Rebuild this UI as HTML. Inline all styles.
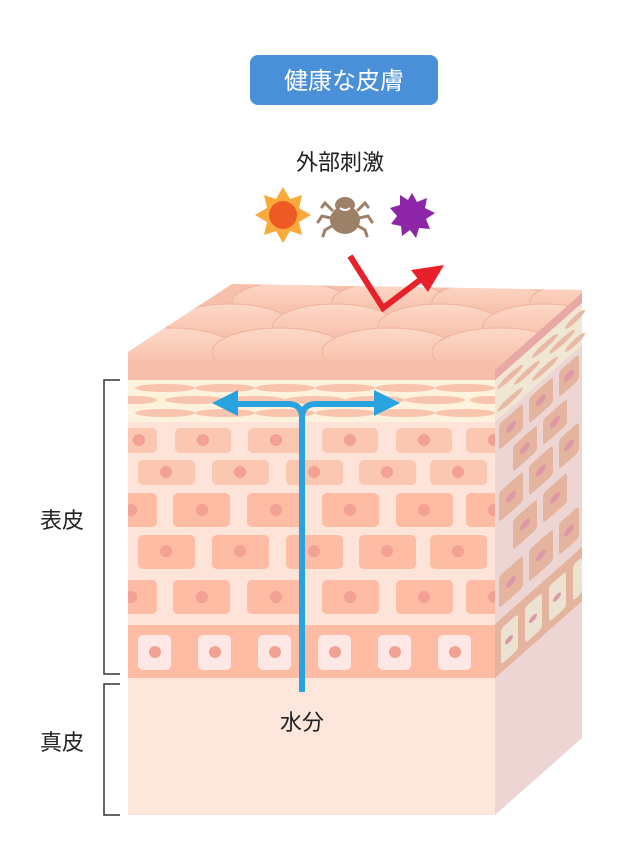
<!DOCTYPE html>
<html><head><meta charset="utf-8"><style>
html,body{margin:0;padding:0;background:#fff;}
body{width:640px;height:853px;overflow:hidden;font-family:"Liberation Sans","Noto Sans CJK JP",sans-serif;}
</style></head><body>
<svg width="640" height="853" viewBox="0 0 640 853" xmlns="http://www.w3.org/2000/svg">
<defs>
<linearGradient id="hump" x1="0" y1="0" x2="0" y2="1">
<stop offset="0" stop-color="#fdd9c7"/><stop offset="1" stop-color="#f5b8a1"/>
</linearGradient>
<clipPath id="topclip"><polygon points="128,370 128,352 232,284 582,290 582,293 495,370"/></clipPath>
<clipPath id="frontclip"><rect x="128" y="360" width="367" height="460"/></clipPath>
</defs>
<!-- title -->
<rect x="250" y="55" width="188" height="50" rx="8" fill="#4a90d9"/>
<text x="344" y="89" font-size="24" fill="#fff" text-anchor="middle" font-family="Liberation Sans,Noto Sans CJK JP,sans-serif">健康な皮膚</text>
<text x="340" y="170" font-size="22" fill="#222" text-anchor="middle" font-family="Liberation Sans,Noto Sans CJK JP,sans-serif">外部刺激</text>
<!-- sun -->
<polygon fill="#f9aa3a" points="283,187 290,199 302,195 299,208 311,215 299,222 302,235 290,231 283,243 276,231 264,235 267,222 255,215 267,208 264,195 276,199"/>
<circle cx="283" cy="215" r="14" fill="#ee5a24"/>
<!-- tick -->
<g fill="#9c8068" stroke="#9c8068">
<ellipse cx="345" cy="220" rx="15" ry="14" stroke="none"/>
<ellipse cx="345" cy="205" rx="10" ry="8" stroke="none"/>
<g stroke-width="3" fill="none" stroke-linecap="round">
<path d="M332,210 L325,203 L322,207"/><path d="M358,210 L365,203 L368,207"/>
<path d="M331,218 L322,216 L318,222"/><path d="M359,218 L368,216 L372,222"/>
<path d="M332,226 L325,230 L323,236"/><path d="M358,226 L365,230 L367,236"/>
</g>
</g>
<path d="M340,208 Q345,212 350,208" stroke="#fff" stroke-width="2" fill="none"/>
<!-- purple -->
<polygon fill="#8c25a6" points="412,193 417,202 427,198 425,208 435,213 426,219 430,229 419,228 416,238 410,230 402,236 401,226 391,224 397,216 390,208 400,205 400,195 408,200"/>
<!-- side face -->
<g transform="translate(495,0) skewY(-41.5)">
<rect x="0" y="370" width="87" height="445" fill="#ecd5d3"/>
<rect x="0" y="370" width="87" height="10" fill="#e8a9a6"/>
<rect x="0" y="380" width="87" height="42" fill="#efe7d3"/>
<g fill="#eab9a6">
<ellipse cx="15" cy="390" rx="13" ry="3.5"/><ellipse cx="50" cy="390" rx="13" ry="3.5"/><ellipse cx="80" cy="390" rx="10" ry="3.5"/>
<ellipse cx="32" cy="401" rx="13" ry="3.5"/><ellipse cx="67" cy="401" rx="13" ry="3.5"/>
<ellipse cx="15" cy="413" rx="13" ry="3.5"/><ellipse cx="50" cy="413" rx="13" ry="3.5"/><ellipse cx="80" cy="413" rx="10" ry="3.5"/>
</g>
<g fill="#e5b49e">
<rect x="4" y="428" width="24" height="26" rx="3"/><rect x="34" y="428" width="24" height="26" rx="3"/><rect x="64" y="428" width="20" height="26" rx="3"/>
<rect x="18" y="462" width="24" height="26" rx="3"/><rect x="48" y="462" width="24" height="26" rx="3"/>
<rect x="4" y="496" width="24" height="30" rx="3"/><rect x="34" y="496" width="24" height="30" rx="3"/><rect x="64" y="496" width="20" height="30" rx="3"/>
<rect x="18" y="536" width="24" height="30" rx="3"/><rect x="48" y="536" width="24" height="30" rx="3"/>
<rect x="4" y="580" width="24" height="32" rx="3"/><rect x="34" y="580" width="24" height="32" rx="3"/><rect x="64" y="580" width="20" height="32" rx="3"/>
<rect x="0" y="624" width="87" height="54"/>
</g>
<g fill="#ebe3cf"><rect x="6" y="634" width="17" height="36" rx="3"/><rect x="30" y="634" width="17" height="36" rx="3"/><rect x="54" y="634" width="17" height="36" rx="3"/><rect x="78" y="634" width="9" height="36" rx="3"/></g>
<g fill="#dd98a6">
<ellipse cx="16" cy="441" rx="5" ry="4"/><ellipse cx="46" cy="441" rx="5" ry="4"/><ellipse cx="74" cy="441" rx="5" ry="4"/>
<ellipse cx="30" cy="475" rx="5" ry="4"/><ellipse cx="60" cy="475" rx="5" ry="4"/>
<ellipse cx="16" cy="511" rx="5" ry="4"/><ellipse cx="46" cy="511" rx="5" ry="4"/><ellipse cx="74" cy="511" rx="5" ry="4"/>
<ellipse cx="30" cy="551" rx="5" ry="4"/><ellipse cx="60" cy="551" rx="5" ry="4"/>
<ellipse cx="16" cy="596" rx="5" ry="4"/><ellipse cx="46" cy="596" rx="5" ry="4"/><ellipse cx="74" cy="596" rx="5" ry="4"/>
<ellipse cx="14" cy="652" rx="4" ry="3"/><ellipse cx="38" cy="652" rx="4" ry="3"/><ellipse cx="62" cy="652" rx="4" ry="3"/>
</g>
</g>
<!-- top face -->
<polygon points="128,370 128,352 232,284 582,290 582,293 495,370" fill="#f6c0aa"/>
<g clip-path="url(#topclip)" fill="url(#hump)" stroke="#f0b29c" stroke-width="1">
<ellipse cx="290" cy="302" rx="58" ry="20"/><ellipse cx="390" cy="302" rx="58" ry="20"/><ellipse cx="490" cy="302" rx="58" ry="20"/><ellipse cx="585" cy="302" rx="55" ry="20"/>
<ellipse cx="230" cy="326" rx="62" ry="22"/><ellipse cx="335" cy="326" rx="62" ry="22"/><ellipse cx="440" cy="326" rx="62" ry="22"/><ellipse cx="545" cy="326" rx="62" ry="22"/>
<ellipse cx="170" cy="352" rx="68" ry="24"/><ellipse cx="280" cy="352" rx="68" ry="24"/><ellipse cx="390" cy="352" rx="68" ry="24"/><ellipse cx="500" cy="352" rx="68" ry="24"/>
</g>
<polygon points="495,370 582,293 582,300 495,378" fill="#e8a9a6"/>
<!-- front face -->
<g clip-path="url(#frontclip)">
<rect x="128" y="360" width="367" height="20" fill="#f6bfa9"/>
<rect x="128" y="380" width="367" height="42" fill="#fdf2dc"/>
<g fill="#f8c4ad">
<ellipse cx="165" cy="388" rx="30" ry="4"/><ellipse cx="225" cy="388" rx="30" ry="4"/><ellipse cx="285" cy="388" rx="30" ry="4"/><ellipse cx="345" cy="388" rx="30" ry="4"/><ellipse cx="405" cy="388" rx="30" ry="4"/><ellipse cx="465" cy="388" rx="30" ry="4"/>
<ellipse cx="135" cy="400" rx="22" ry="4"/><ellipse cx="195" cy="400" rx="30" ry="4"/><ellipse cx="255" cy="400" rx="30" ry="4"/><ellipse cx="315" cy="400" rx="30" ry="4"/><ellipse cx="375" cy="400" rx="30" ry="4"/><ellipse cx="435" cy="400" rx="30" ry="4"/><ellipse cx="490" cy="400" rx="20" ry="4"/>
<ellipse cx="165" cy="413" rx="30" ry="4"/><ellipse cx="225" cy="413" rx="30" ry="4"/><ellipse cx="285" cy="413" rx="30" ry="4"/><ellipse cx="345" cy="413" rx="30" ry="4"/><ellipse cx="405" cy="413" rx="30" ry="4"/><ellipse cx="465" cy="413" rx="30" ry="4"/>
</g>
<rect x="128" y="422" width="367" height="203" fill="#fde3d8"/>
<g fill="#fcc7b0">
<rect x="118" y="428" width="39" height="25" rx="5"/><rect x="175" y="428" width="56" height="25" rx="5"/><rect x="248" y="428" width="56" height="25" rx="5"/><rect x="322" y="428" width="56" height="25" rx="5"/><rect x="396" y="428" width="56" height="25" rx="5"/><rect x="466" y="428" width="40" height="25" rx="5"/>
<rect x="138" y="460" width="57" height="25" rx="5"/><rect x="212" y="460" width="57" height="25" rx="5"/><rect x="286" y="460" width="57" height="25" rx="5"/><rect x="359" y="460" width="57" height="25" rx="5"/><rect x="430" y="460" width="57" height="25" rx="5"/>
</g>
<g fill="#fdbca3">
<rect x="118" y="493" width="39" height="34" rx="5"/><rect x="173" y="493" width="57" height="34" rx="5"/><rect x="247" y="493" width="57" height="34" rx="5"/><rect x="322" y="493" width="57" height="34" rx="5"/><rect x="396" y="493" width="57" height="34" rx="5"/><rect x="466" y="493" width="40" height="34" rx="5"/>
<rect x="138" y="535" width="57" height="34" rx="5"/><rect x="212" y="535" width="57" height="34" rx="5"/><rect x="286" y="535" width="57" height="34" rx="5"/><rect x="359" y="535" width="57" height="34" rx="5"/><rect x="430" y="535" width="57" height="34" rx="5"/>
<rect x="118" y="580" width="39" height="34" rx="5"/><rect x="173" y="580" width="57" height="34" rx="5"/><rect x="247" y="580" width="57" height="34" rx="5"/><rect x="322" y="580" width="57" height="34" rx="5"/><rect x="396" y="580" width="57" height="34" rx="5"/><rect x="466" y="580" width="40" height="34" rx="5"/>
</g>
<rect x="128" y="625" width="367" height="53" fill="#fdbca3"/>
<g fill="#fde8e6">
<rect x="138" y="635" width="33" height="35" rx="5"/><rect x="198" y="635" width="33" height="35" rx="5"/><rect x="258" y="635" width="33" height="35" rx="5"/><rect x="318" y="635" width="33" height="35" rx="5"/><rect x="378" y="635" width="33" height="35" rx="5"/><rect x="438" y="635" width="33" height="35" rx="5"/>
</g>
<rect x="128" y="678" width="367" height="137" fill="#fde6dc"/>
<g fill="#f3a095">
<circle cx="139" cy="440" r="6"/><circle cx="203" cy="440" r="6"/><circle cx="276" cy="440" r="6"/><circle cx="350" cy="440" r="6"/><circle cx="424" cy="440" r="6"/><circle cx="494" cy="440" r="6"/>
<circle cx="166" cy="472" r="6"/><circle cx="240" cy="472" r="6"/><circle cx="314" cy="472" r="6"/><circle cx="387" cy="472" r="6"/><circle cx="458" cy="472" r="6"/>
<circle cx="131" cy="510" r="6"/><circle cx="202" cy="510" r="6"/><circle cx="276" cy="510" r="6"/><circle cx="350" cy="510" r="6"/><circle cx="424" cy="510" r="6"/><circle cx="494" cy="510" r="6"/>
<circle cx="166" cy="551" r="6"/><circle cx="240" cy="551" r="6"/><circle cx="314" cy="551" r="6"/><circle cx="387" cy="551" r="6"/><circle cx="458" cy="551" r="6"/>
<circle cx="131" cy="597" r="6"/><circle cx="202" cy="597" r="6"/><circle cx="276" cy="597" r="6"/><circle cx="350" cy="597" r="6"/><circle cx="424" cy="597" r="6"/><circle cx="494" cy="597" r="6"/>
<circle cx="155" cy="652" r="6"/><circle cx="215" cy="652" r="6"/><circle cx="275" cy="652" r="6"/><circle cx="335" cy="652" r="6"/><circle cx="395" cy="652" r="6"/><circle cx="455" cy="652" r="6"/>
</g>
</g>
<!-- red arrow -->
<polyline points="350,256 383,308 420,280" fill="none" stroke="#e8202a" stroke-width="6" stroke-linejoin="miter"/>
<polygon points="444,265 411,270 428,292" fill="#e8202a"/>
<!-- blue arrow -->
<path d="M302,692 L302,418 Q302,404 288,404 L232,404 M302,418 Q302,404 316,404 L380,404" fill="none" stroke="#29a3e0" stroke-width="6"/>
<polygon points="212,403 238,390 238,416" fill="#29a3e0"/>
<polygon points="400,403 374,390 374,416" fill="#29a3e0"/>
<text x="302" y="730" font-size="22" fill="#222" text-anchor="middle" font-family="Liberation Sans,Noto Sans CJK JP,sans-serif">水分</text>
<!-- brackets -->
<path d="M120,380 L104,380 L104,674 L120,674 M120,684 L104,684 L104,815 L120,815" fill="none" stroke="#333" stroke-width="1.5"/>
<text x="40" y="528" font-size="22" fill="#222" font-family="Liberation Sans,Noto Sans CJK JP,sans-serif">表皮</text>
<text x="40" y="750" font-size="22" fill="#222" font-family="Liberation Sans,Noto Sans CJK JP,sans-serif">真皮</text>
</svg>
</body></html>
